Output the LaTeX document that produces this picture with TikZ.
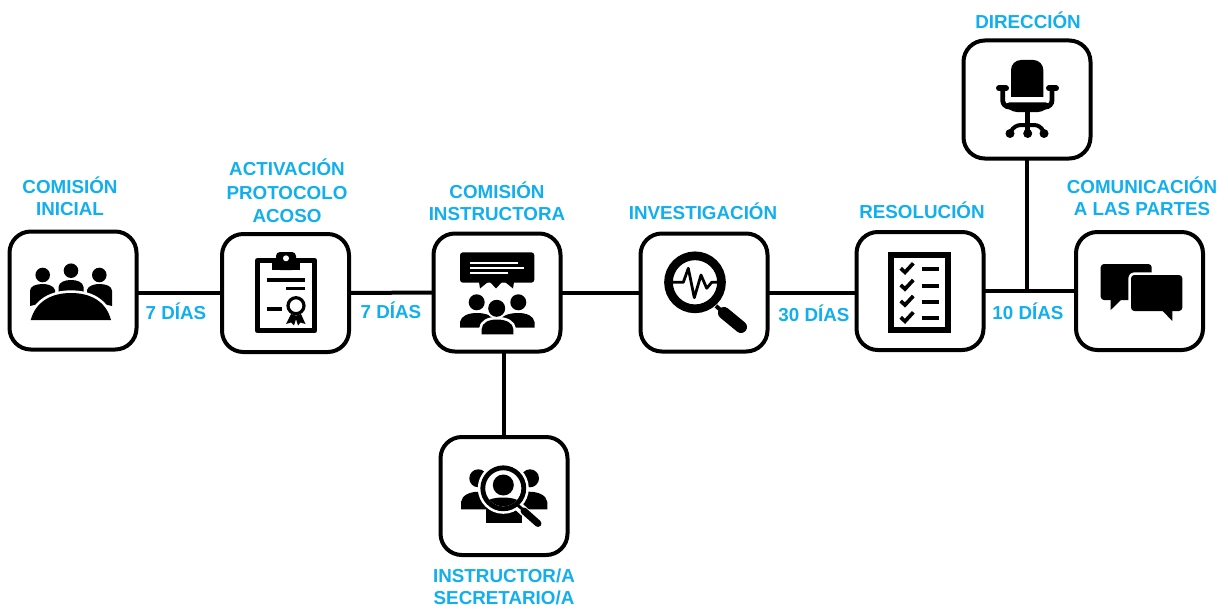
\documentclass[tikz,border=0pt]{standalone}
\usepackage{fontspec}
\setmainfont{Liberation Sans}
\definecolor{lbl}{HTML}{12AFEE}
\tikzset{
  box/.style={draw=black,fill=white,line width=3pt,rounded corners=16pt,minimum width=95.25pt,minimum height=88.5pt,outer sep=0pt,inner sep=0pt},
  captxt/.style={text=lbl,font=\bfseries\fontsize{14.1pt}{16.6pt}\selectfont,align=center,inner sep=0pt,yshift=1pt},
  link/.style={draw=black,line width=3pt},
  ink/.style={fill=black,draw=none},
  ln/.style={draw=black,line cap=round,line join=round},
  halo/.style={fill=black,preaction={draw=white,line width=4pt,line join=round}},
}
\begin{document}
\begin{tikzpicture}[x=0.75pt,y=-0.75pt]
\useasboundingbox[fill=white] (0,0) rectangle (1228,610);
% boxes
\node[box] (inicial) at (73,290.5) {};
\node[box] (activa) at (285.5,293) {};
\node[box] (instr) at (497,292.5) {};
\node[box] (invest) at (704,292.5) {};
\node[box] (resol) at (920,291) {};
\node[box] (comun) at (1139.5,291) {};
\node[box] (direc) at (1027,99.5) {};
\node[box] (secre) at (504,496) {};
\coordinate (junta) at (direc.south |- comun.west);
% connectors
\draw[link] (activa.west -| inicial.east) -- (activa.west);
\draw[link] (activa.east) -- (instr.west);
\draw[link] (instr.east) -- (invest.west);
\draw[link] (invest.east) -- (invest.east -| resol.west);
\draw[link] (resol.east) -- (comun.west);
\draw[link] (direc.south) -- (junta);
\draw[link] (secre.north) -- (secre.north |- instr.south);
% captions
\node[captxt] (t1) at (70,198) {COMISIÓN\\INICIAL};
\node[captxt,font=\bfseries\fontsize{14.1pt}{17.6pt}\selectfont] (t2) at (287,192.5) {ACTIVACIÓN\\PROTOCOLO\\ACOSO};
\node[captxt] (t3) at (497,202.5) {COMISIÓN\\INSTRUCTORA};
\node[captxt] (t4) at (703,213) {INVESTIGACIÓN};
\node[captxt] (t5) at (922,212) {RESOLUCIÓN};
\node[captxt] (t6) at (1028,22) {DIRECCIÓN};
\node[captxt] (t7) at (1142,198) {COMUNICACIÓN\\A LAS PARTES};
\node[captxt] (t8) at (504,588) {INSTRUCTOR/A\\SECRETARIO/A};
\node[captxt] (d1) at (176,313) {7 DÍAS};
\node[captxt] (d2) at (391,312) {7 DÍAS};
\node[captxt] (d3) at (814,315) {30 DÍAS};
\node[captxt] (d4) at (1028,313) {10 DÍAS};
% icon: meeting
\fill[ink] (42.7,275) circle[radius=7.3] (71,270.7) circle[radius=7.3] (99.3,275) circle[radius=7.3];
\fill[ink] (30,306) -- (30,291) .. controls (30,286) and (36,284) .. (43,284) .. controls (48,284) and (54,286) .. (55,290) -- (55,300) -- cycle;
\fill[ink] (112,306) -- (112,291) .. controls (112,286) and (106,284) .. (99,284) .. controls (94,284) and (88,286) .. (87,290) -- (87,300) -- cycle;
\fill[ink] (58.5,292) -- (58.5,287) .. controls (59,282) and (65,280) .. (71,280) .. controls (77,280) and (83,282) .. (83.5,287) -- (83.5,292) -- cycle;
\path[halo] (30.7,320) .. controls (36,301) and (52,293) .. (71,293) .. controls (90,293) and (106,301) .. (111,320) -- cycle;
% icon: clipboard
\draw[line width=3.8pt,line join=round] (257.5,260.5) rectangle (314.8,330.8);
\fill[ink,rounded corners=3pt] (276,270) -- (276,252) -- (296,252) -- (296,270) -- cycle;
\fill[ink] (271.5,258) rectangle (300,270);
\fill[white] (286,258.3) circle[radius=3];
\draw[ln,line cap=butt,line width=2.6pt] (266.7,280) -- (305,280);
\draw[ln,line cap=butt,line width=2.6pt] (286,288.3) -- (305,288.3);
\draw[ln,line cap=butt,line width=3pt] (266.7,309.3) -- (281.7,309.3);
\draw[line width=2.4pt] (296,305.7) circle[radius=8];
\fill[ink] (291,314) -- (286,324) -- (291,322.5) -- (294,325.5) -- (297,316) -- cycle;
\fill[ink] (301,314) -- (305.5,324) -- (300.5,322.5) -- (298,325.5) -- (295,316) -- cycle;
% icon: commission
\fill[ink,rounded corners=2.2pt] (460,252.3) rectangle (534.3,282.7);
\fill[ink] (479,282) -- (480,288.5) -- (488,282) -- cycle;
\fill[ink] (490,282) -- (496,288.5) -- (502,282) -- cycle;
\fill[ink] (505,282) -- (513,288.5) -- (514,282) -- cycle;
\draw[white,line width=1.2pt] (470,262.7) -- (518.3,262.7) (470,267.7) -- (524.3,267.7) (470,272.7) -- (507.7,272.7);
\fill[ink] (476.7,302.3) circle[radius=8] (518.3,302.3) circle[radius=8];
\fill[ink] (460,327.7) -- (460,322) .. controls (461,316) and (468,313) .. (477,313) .. controls (486,313) and (494,316) .. (495,322) -- (495,327.7) -- cycle;
\fill[ink] (534.5,327.7) -- (534.5,322) .. controls (533.5,316) and (527,313) .. (518,313) .. controls (509,313) and (500,316) .. (499,322) -- (499,327.7) -- cycle;
\fill[white] (496.7,308.3) circle[radius=10.5];
\path[halo] (481.7,334.3) -- (481.7,329) .. controls (482,323) and (488,319.5) .. (497,319.5) .. controls (506,319.5) and (513,323) .. (513.3,329) -- (513.3,334.3) -- cycle;
\fill[ink] (496.7,308.3) circle[radius=8.5];
% icon: investigation
\draw[line width=6.5pt] (695,282.3) circle[radius=26.5];
\draw[ln,line width=3pt,line cap=butt] (716,306) -- (724,313);
\draw[ln,line width=9pt] (724,313) -- (741,327);
\draw[ln,line width=2.1pt] (673.3,282.3) -- (683.3,282.3) -- (688.3,268.3) -- (694.3,297.7) -- (701,275) -- (706.7,288.3) -- (711.7,282.3) -- (717.7,282.3);
% icon: checklist
\draw[line width=4.5pt] (890.7,254.7) rectangle (947.7,330.3);
\foreach \cy in {268.3,285,301,317.3}{
  \draw[ln,line width=2.8pt,line cap=butt,line join=miter] (900.7,\cy) -- (905,\cy+4) -- (913.3,\cy-5);
  \draw[line width=3.2pt] (921.7,\cy+.7) -- (939,\cy+.7);
}
% icon: dialogue
\fill[ink,rounded corners=2.5pt] (1100.7,264) rectangle (1151.7,300);
\fill[ink] (1110.7,298) -- (1110.7,310) -- (1123,298) -- cycle;
\path[halo,rounded corners=2.5pt] (1131,275) rectangle (1182.3,311);
\fill[ink] (1161.7,310) -- (1172.3,321) -- (1172.3,310) -- cycle;
% icon: chair
\fill[ink,rounded corners=7.5pt] (1011,97) -- (1011,60) -- (1043.3,60) -- (1043.3,97);
\fill[ink] (1011,85) rectangle (1043.3,96.7);
\fill[ink,rounded corners=3pt] (1005,102.5) -- (1050,102.5) -- (1050,106) -- (1042,112) -- (1013,112) -- (1005,106) -- cycle;
\draw[ln,line width=4.5pt] (999,88.3) -- (1006,88.3);
\draw[ln,line width=4.5pt] (1049,88.3) -- (1056,88.3);
\draw[line width=3.6pt,rounded corners=5pt] (1002.7,88) -- (1002.7,107) -- (1010,107);
\draw[line width=3.6pt,rounded corners=5pt] (1052,88) -- (1052,107) -- (1045,107);
\draw[line width=3.6pt] (1027.7,111) -- (1027.7,133);
\draw[line width=3pt,rounded corners=5pt] (1010,133.5) -- (1014,125) -- (1041,125) -- (1044,133.5);
\fill[ink] (1010,133.5) circle[radius=4.5] (1027.7,133.5) circle[radius=4.5] (1044,133.5) circle[radius=4.5];
% icon: instructor
\fill[ink] (478.3,478.3) circle[radius=9] (530,478.3) circle[radius=9];
\fill[ink] (461,509.3) -- (461,502) .. controls (462,495) and (470,491.7) .. (479,491.7) -- (490,492) -- (490,509.3) -- cycle;
\fill[ink] (547.3,509.3) -- (547.3,502) .. controls (546.3,495) and (538,491.7) .. (529,491.7) -- (518,492) -- (518,509.3) -- cycle;
\fill[ink] (485.7,523.3) -- (485.7,505) -- (522.3,505) -- (522.3,523.3) -- cycle;
\fill[white] (503.3,488.3) circle[radius=25.5];
\draw[white,line width=7pt,line cap=round] (518,506) -- (538.3,524.3);
\begin{scope}
\clip (503.3,488.3) circle[radius=18];
\fill[ink] (503.3,485) circle[radius=10.5];
\fill[ink] (482,515) -- (482,507) .. controls (484,500) and (493,497.5) .. (503,497.5) .. controls (513,497.5) and (522,500) .. (524,507) -- (524,515) -- cycle;
\end{scope}
\draw[line width=3.6pt] (503.3,488.3) circle[radius=20.5];
\draw[ln,line width=2.2pt,line cap=butt] (517.5,505) -- (524,510.5);
\draw[ln,line width=5.2pt] (524,511) -- (538,523.5);
\end{tikzpicture}
\end{document}
